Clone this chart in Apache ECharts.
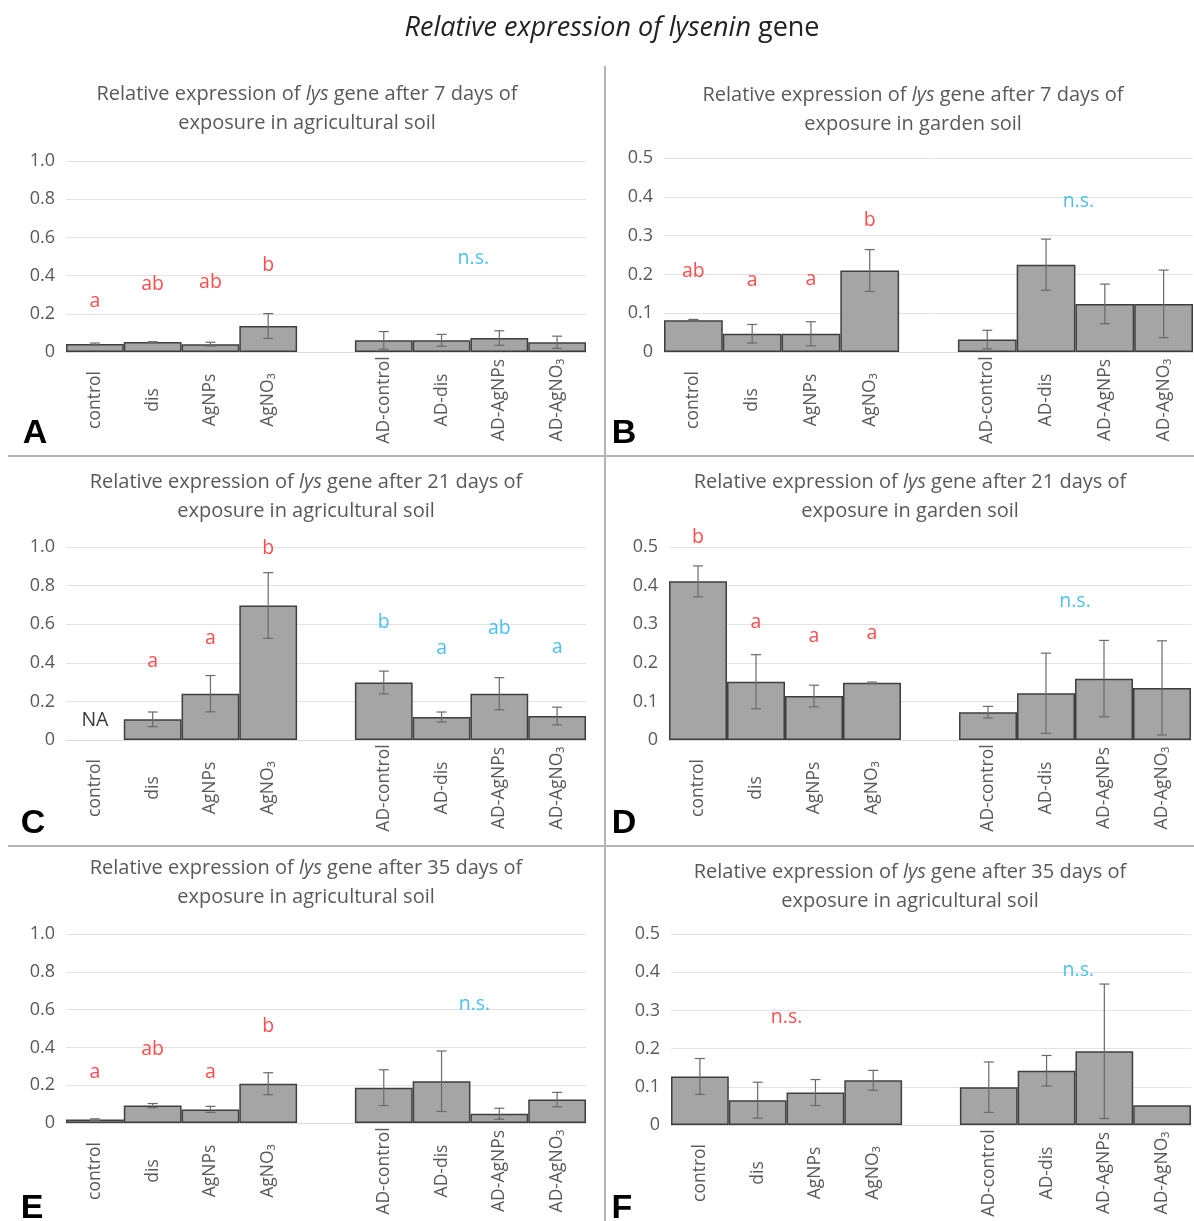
<!DOCTYPE html>
<html>
<head>
<meta charset="utf-8">
<script src="https://cdn.jsdelivr.net/npm/echarts@6/dist/echarts.min.js"></script>
<style>
html,body{margin:0;padding:0;background:#fff;}
#main{width:1194px;height:1221px;}
</style>
</head>
<body>
<div id="main"></div>
<script>
// ---------- DATA ----------
const categories = ['control', 'dis', 'AgNPs', 'AgNO₃', '', 'AD-control', 'AD-dis', 'AD-AgNPs', 'AD-AgNO₃'];

const yTicksFull = [0, 0.2, 0.4, 0.6, 0.8, 1.0];
const yTicksHalf = [0, 0.1, 0.2, 0.3, 0.4, 0.5];

// Panel A: 7 days, agricultural soil
const valuesA = [0.042, 0.052, 0.041, 0.136, null, 0.061, 0.061, 0.073, 0.051];
const errorsA = [0.005, 0.002, 0.010, 0.065, null, 0.046, 0.031, 0.038, 0.032];
const lettersA = [[0, 0.267, 'a', 'L'], [1, 0.355, 'ab', 'L'], [2, 0.362, 'ab', 'L'], [3, 0.451, 'b', 'L'], [6.55, 0.49, 'n.s.', 'R']];

// Panel B: 7 days, garden soil
const valuesB = [0.082, 0.047, 0.047, 0.210, null, 0.032, 0.225, 0.124, 0.124];
const errorsB = [0.002, 0.024, 0.031, 0.054, null, 0.024, 0.066, 0.051, 0.087];
const lettersB = [[0, 0.207, 'ab', 'L'], [1, 0.184, 'a', 'L'], [2, 0.186, 'a', 'L'], [3, 0.338, 'b', 'L'], [6.55, 0.387, 'n.s.', 'R']];

// Panel C: 21 days, agricultural soil
const valuesC = [null, 0.107, 0.240, 0.697, null, 0.298, 0.119, 0.240, 0.124];
const errorsC = [null, 0.038, 0.094, 0.170, null, 0.059, 0.026, 0.083, 0.046];
const lettersC = [[0, 0.103, 'NA', 'N'], [1, 0.405, 'a', 'L'], [2, 0.524, 'a', 'L'], [3, 0.99, 'b', 'L'],
                  [5, 0.61, 'b', 'R'], [6, 0.472, 'a', 'R'], [7, 0.578, 'ab', 'R'], [8, 0.481, 'a', 'R']];

// Panel D: 21 days, garden soil
const valuesD = [0.411, 0.151, 0.114, 0.148, null, 0.072, 0.121, 0.159, 0.135];
const errorsD = [0.040, 0.070, 0.028, 0.002, null, 0.015, 0.104, 0.099, 0.122];
const lettersD = [[0, 0.526, 'b', 'L'], [1, 0.305, 'a', 'L'], [2, 0.269, 'a', 'L'], [3, 0.275, 'a', 'L'], [6.5, 0.36, 'n.s.', 'R']];

// Panel E: 35 days, agricultural soil
const valuesE = [0.018, 0.092, 0.072, 0.208, null, 0.187, 0.221, 0.049, 0.124];
const errorsE = [0.004, 0.011, 0.016, 0.058, null, 0.095, 0.160, 0.029, 0.038];
const lettersE = [[0, 0.265, 'a', 'L'], [1, 0.39, 'ab', 'L'], [2, 0.265, 'a', 'L'], [3, 0.512, 'b', 'L'], [6.57, 0.629, 'n.s.', 'R']];

// Panel F: 35 days, agricultural soil
const valuesF = [0.127, 0.065, 0.085, 0.117, null, 0.099, 0.142, 0.193, 0.052];
const errorsF = [0.047, 0.047, 0.034, 0.026, null, 0.066, 0.040, 0.176, null];
const lettersF = [[1.5, 0.281, 'n.s.', 'L'], [6.55, 0.404, 'n.s.', 'R']];

const mainTitleItalic = 'Relative expression of lysenin';
const mainTitleRest = ' gene';
const subtitles = [
  ['7', 'agricultural'], ['7', 'garden'],
  ['21', 'agricultural'], ['21', 'garden'],
  ['35', 'agricultural'], ['35', 'agricultural']
];
const panelLetters = ['A', 'B', 'C', 'D', 'E', 'F'];

// ---------- LAYOUT / STYLE ----------
const FONT = '"Open Sans", Lato, sans-serif';
const GRAY_TXT = '#595959';
const RED = '#ff2020';
const BLUE = '#1fb0f0';

const panels = [
  { values: valuesA, errors: errorsA, letters: lettersA, ticks: yTicksFull },
  { values: valuesB, errors: errorsB, letters: lettersB, ticks: yTicksHalf },
  { values: valuesC, errors: errorsC, letters: lettersC, ticks: yTicksFull },
  { values: valuesD, errors: errorsD, letters: lettersD, ticks: yTicksHalf },
  { values: valuesE, errors: errorsE, letters: lettersE, ticks: yTicksFull },
  { values: valuesF, errors: errorsF, letters: lettersF, ticks: yTicksHalf }
];

const layout = [
  { grid: { left: 66, top: 161, width: 520, height: 191 }, sx: 307, sy: 94, lx: 35, ly: 434 },
  { grid: { left: 664, top: 158, width: 529, height: 194 }, sx: 913, sy: 95, lx: 624, ly: 434 },
  { grid: { left: 66, top: 547, width: 520, height: 193 }, sx: 306, sy: 482, lx: 33, ly: 824 },
  { grid: { left: 669, top: 547, width: 522, height: 193 }, sx: 910, sy: 482, lx: 624, ly: 824 },
  { grid: { left: 66, top: 934, width: 520, height: 189 }, sx: 306, sy: 868, lx: 32, ly: 1209 },
  { grid: { left: 671, top: 934, width: 520, height: 191 }, sx: 910, sy: 872, lx: 622, ly: 1209 }
];

const grids = [], xAxes = [], yAxes = [], series = [], graphics = [];

function errRender(params, api) {
  const e = api.value(2);
  if (e == null || isNaN(e)) return null;
  const x = api.value(0), y = api.value(1);
  const hi = api.coord([x, y + e]);
  const lo = api.coord([x, y - e]);
  const cap = 5;
  const st = { stroke: '#6a6a6a', lineWidth: 1.2 };
  return {
    type: 'group',
    children: [
      { type: 'line', shape: { x1: hi[0], y1: hi[1], x2: lo[0], y2: lo[1] }, style: st },
      { type: 'line', shape: { x1: hi[0] - cap, y1: hi[1], x2: hi[0] + cap, y2: hi[1] }, style: st },
      { type: 'line', shape: { x1: lo[0] - cap, y1: lo[1], x2: lo[0] + cap, y2: lo[1] }, style: st }
    ]
  };
}

panels.forEach((p, g) => {
  const L = layout[g];
  grids.push(L.grid);
  const ticks = p.ticks;
  const tmax = ticks[ticks.length - 1];
  const tint = ticks[1] - ticks[0];
  xAxes.push({
    type: 'category', gridIndex: g, data: categories, boundaryGap: true,
    axisLine: { show: true, lineStyle: { color: '#d9d9d9', width: 1.2 } },
    axisTick: { show: false },
    axisLabel: {
      rotate: 90, interval: 0, align: 'center', verticalAlign: 'middle', margin: 48,
      color: GRAY_TXT, fontSize: 17.5, fontFamily: FONT
    },
    splitLine: { show: false }
  });
  xAxes.push({ type: 'value', gridIndex: g, min: -0.5, max: 8.5, show: false });
  yAxes.push({
    type: 'value', gridIndex: g, min: 0, max: tmax, interval: tint,
    axisLine: { show: false }, axisTick: { show: false },
    axisLabel: {
      color: GRAY_TXT, fontSize: 18, fontFamily: FONT, margin: 11,
      formatter: v => (v === 0 ? '0' : v.toFixed(1))
    },
    splitLine: { lineStyle: { color: '#e3e3e3', width: 1 } }
  });
  series.push({
    type: 'bar', xAxisIndex: 2 * g, yAxisIndex: g,
    data: p.values, barCategoryGap: '0%',
    itemStyle: { color: '#a5a5a5', borderColor: '#3f3f3f', borderWidth: 1.5 },
    silent: true, animation: false
  });
  series.push({
    type: 'custom', xAxisIndex: 2 * g, yAxisIndex: g,
    data: p.values.map((v, i) => [i, v, p.errors[i]]).filter(d => d[1] != null && d[2] != null),
    renderItem: errRender, silent: true, animation: false, z: 5
  });
  series.push({
    type: 'scatter', xAxisIndex: 2 * g + 1, yAxisIndex: g,
    data: p.letters.map(l => ({
      value: [l[0], l[1]],
      label: { color: l[3] === 'L' ? RED : (l[3] === 'R' ? BLUE : '#000'), formatter: l[2] }
    })),
    symbolSize: 0, clip: false, silent: true, animation: false,
    label: { show: true, position: 'inside', fontSize: 19.5, fontFamily: FONT }
  });

  // subtitle
  const s = subtitles[g];
  graphics.push({
    type: 'text', x: L.sx, y: L.sy, silent: true,
    style: {
      text: '{n|Relative expression of }{i|lys}{n| gene after ' + s[0] + ' days of}',
      align: 'center', verticalAlign: 'middle',
      rich: {
        n: { fontSize: 20, fontFamily: FONT, fill: GRAY_TXT, color: GRAY_TXT },
        i: { fontSize: 20, fontFamily: FONT, fontStyle: 'italic', fill: GRAY_TXT, color: GRAY_TXT }
      }
    }
  });
  graphics.push({
    type: 'text', x: L.sx, y: L.sy + 29, silent: true,
    style: {
      text: 'exposure in ' + s[1] + ' soil', align: 'center', verticalAlign: 'middle',
      fontSize: 20, fontFamily: FONT, fill: GRAY_TXT
    }
  });
  graphics.push({
    type: 'text', x: L.lx, y: L.ly, silent: true,
    style: {
      text: panelLetters[g], align: 'center', verticalAlign: 'middle',
      fontSize: 34, fontWeight: 'bold', fontFamily: '"Liberation Sans", Arial, sans-serif', fill: '#000'
    }
  });
});

// main title
graphics.push({
  type: 'text', x: 612, y: 28, silent: true,
  style: {
    text: '{i|' + mainTitleItalic + '}{n|' + mainTitleRest + '}',
    align: 'center', verticalAlign: 'middle',
    rich: {
      i: { fontSize: 27, fontFamily: FONT, fontStyle: 'italic', fill: '#222', color: '#222' },
      n: { fontSize: 27, fontFamily: FONT, fill: '#222', color: '#222' }
    }
  }
});
// dividers
const divStyle = { stroke: '#b4b4b4', lineWidth: 2 };
graphics.push({ type: 'line', silent: true, shape: { x1: 605, y1: 66, x2: 605, y2: 1221 }, style: divStyle });
graphics.push({ type: 'line', silent: true, shape: { x1: 8, y1: 456, x2: 1194, y2: 456 }, style: divStyle });
graphics.push({ type: 'line', silent: true, shape: { x1: 8, y1: 846, x2: 1194, y2: 846 }, style: divStyle });

const chart = echarts.init(document.getElementById('main'), null, { renderer: 'canvas' });
chart.setOption({
  backgroundColor: '#fff',
  animation: false,
  grid: grids,
  xAxis: xAxes,
  yAxis: yAxes,
  series: series,
  graphic: graphics
});
</script>
</body>
</html>
